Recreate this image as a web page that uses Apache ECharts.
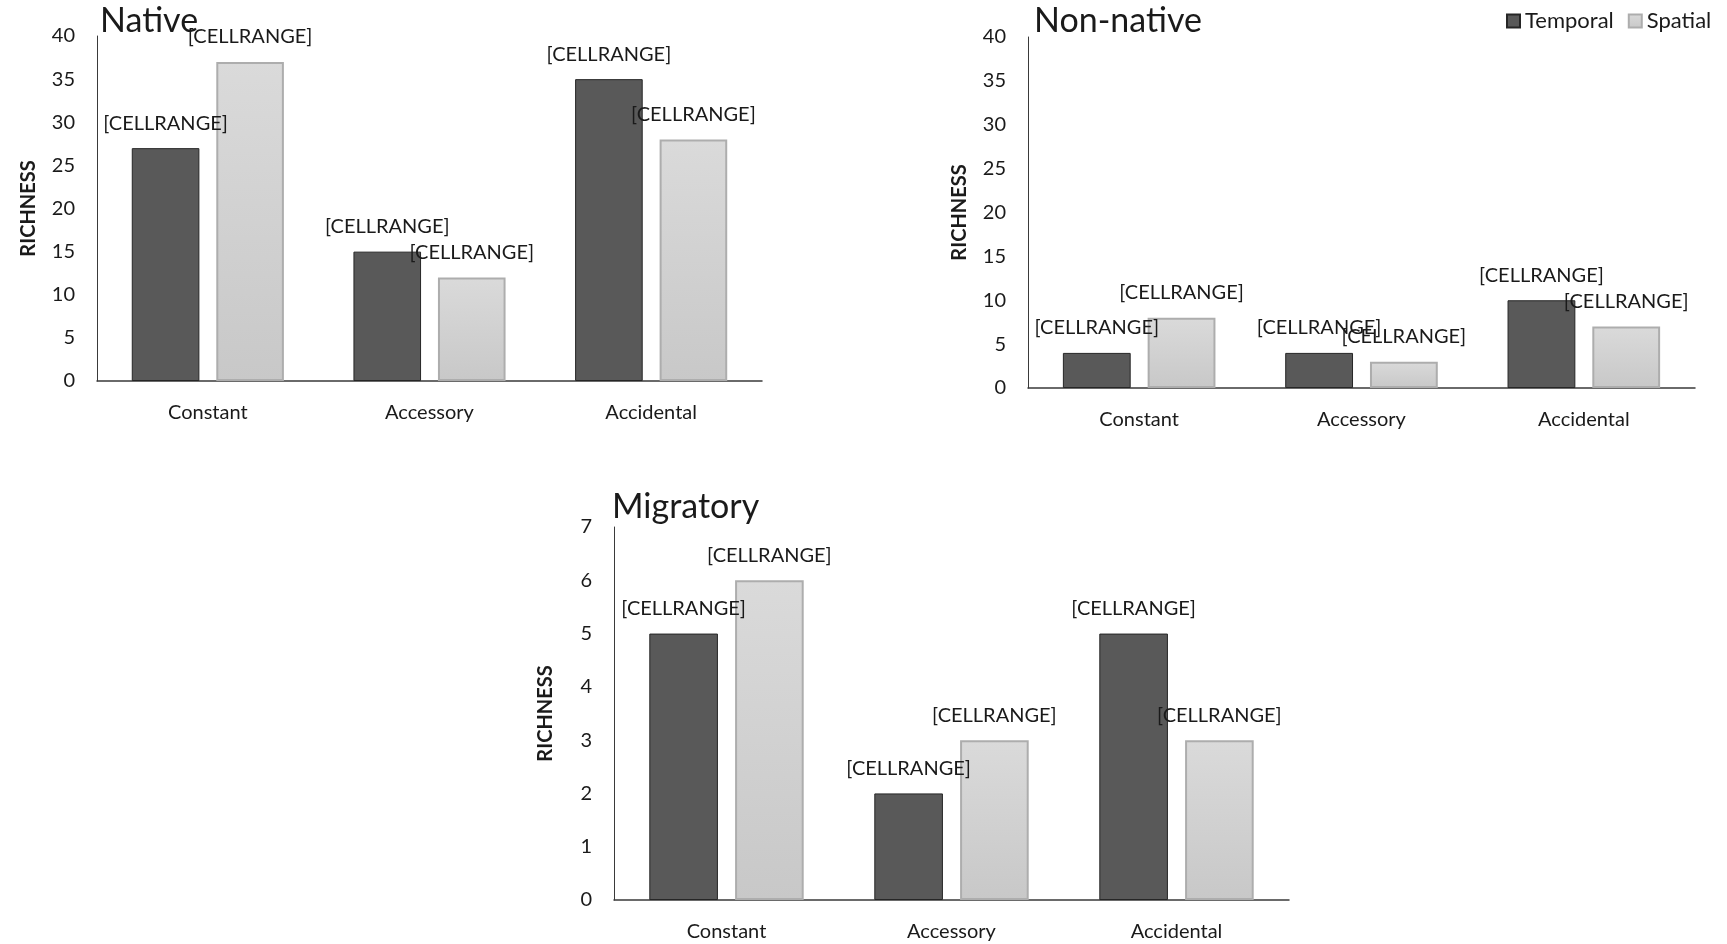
<!DOCTYPE html>
<html>
<head>
<meta charset="utf-8">
<title>Richness by occurrence class</title>
<script src="https://cdn.jsdelivr.net/npm/echarts@6/dist/echarts.min.js"></script>
<style>
  html, body { margin: 0; padding: 0; background: #ffffff; }
  #chart { width: 1727px; height: 944px; }
</style>
</head>
<body>
<div id="chart"></div>
<script>
// Occurrence classes on the x axis of every panel
const categories = ['Constant', 'Accessory', 'Accidental'];
const seriesNames = ['Temporal', 'Spatial'];
const panelTitles = ['Native', 'Non-native', 'Migratory'];

// Species richness per class
const nativeTemporal = [27, 15, 35];
const nativeSpatial = [37, 12, 28];
const nonNativeTemporal = [4, 4, 10];
const nonNativeSpatial = [8, 3, 7];
const migratoryTemporal = [5, 2, 5];
const migratorySpatial = [6, 3, 3];

// Value axis ranges per panel
const nativeAxis = { min: 0, max: 40, interval: 5 };
const nonNativeAxis = { min: 0, max: 40, interval: 5 };
const migratoryAxis = { min: 0, max: 7, interval: 1 };

const dataLabelText = '[CELLRANGE]';
const yAxisTitle = 'RICHNESS';

const FONT = 'Lato, "Noto Sans", sans-serif';
const TEXT = '#1a1a1a';

const grids = [
  { left: 97, top: 36, width: 665, height: 345 },
  { left: 1028, top: 37, width: 667, height: 351 },
  { left: 614, top: 527, width: 675, height: 373 }
];

const axes = [nativeAxis, nonNativeAxis, migratoryAxis];
const values = [
  [nativeTemporal, nativeSpatial],
  [nonNativeTemporal, nonNativeSpatial],
  [migratoryTemporal, migratorySpatial]
];

const temporalStyle = {
  color: '#595959',
  borderColor: '#262626',
  borderWidth: 1
};
const spatialStyle = {
  color: new echarts.graphic.LinearGradient(0, 0, 0, 1, [
    { offset: 0, color: '#dadada' },
    { offset: 1, color: '#c8c8c8' }
  ]),
  borderColor: '#adadad',
  borderWidth: 2
};

const xAxes = grids.map((g, i) => ({
  type: 'category',
  gridIndex: i,
  data: categories,
  axisLine: { lineStyle: { color: '#3a3a3a', width: 1.5 } },
  axisTick: { show: false },
  axisLabel: { color: TEXT, fontFamily: FONT, fontSize: 20, margin: 22 }
}));

const yAxes = grids.map((g, i) => ({
  type: 'value',
  gridIndex: i,
  min: axes[i].min,
  max: axes[i].max,
  interval: axes[i].interval,
  name: yAxisTitle,
  nameLocation: 'middle',
  nameGap: 58,
  nameTextStyle: { color: TEXT, fontFamily: FONT, fontSize: 20, fontWeight: 'bold' },
  axisLine: { show: true, lineStyle: { color: '#3a3a3a', width: 1 } },
  axisTick: { show: false },
  splitLine: { show: false },
  axisLabel: { color: TEXT, fontFamily: FONT, fontSize: 20, margin: 22 }
}));

const series = [];
values.forEach((pair, i) => {
  pair.forEach((vals, j) => {
    series.push({
      name: seriesNames[j],
      type: 'bar',
      xAxisIndex: i,
      yAxisIndex: i,
      data: vals,
      barWidth: '30.5%',
      barGap: '25%',
      itemStyle: j === 0 ? temporalStyle : spatialStyle,
      label: {
        show: true,
        position: 'top',
        distance: 15,
        formatter: () => dataLabelText,
        color: TEXT,
        fontFamily: FONT,
        fontSize: 20
      }
    });
  });
});

const titlePos = [
  { left: 100, top: 4 },
  { left: 1034, top: 4 },
  { left: 612, top: 490 }
];

const option = {
  backgroundColor: '#ffffff',
  animation: false,
  title: panelTitles.map((t, i) => ({
    text: t,
    left: titlePos[i].left,
    top: titlePos[i].top,
    padding: 0,
    textStyle: { color: TEXT, fontFamily: FONT, fontSize: 34, fontWeight: 'normal' }
  })),
  legend: {
    data: seriesNames,
    left: 1501,
    top: 5,
    itemWidth: 13,
    itemHeight: 13,
    itemGap: 14,
    icon: 'rect',
    textStyle: { color: TEXT, fontFamily: FONT, fontSize: 22, padding: [0, 0, 0, 0] }
  },
  grid: grids,
  xAxis: xAxes,
  yAxis: yAxes,
  series: series
};

const chart = echarts.init(document.getElementById('chart'), null, { renderer: 'canvas' });
chart.setOption(option);
</script>
</body>
</html>
